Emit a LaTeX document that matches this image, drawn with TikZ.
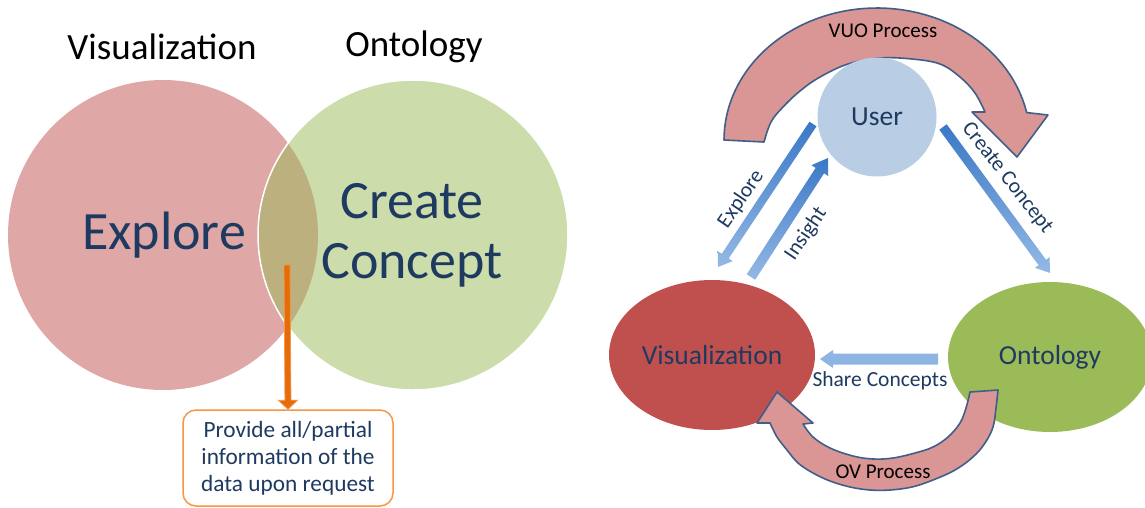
\documentclass[tikz,border=0pt]{standalone}
\usepackage{fontspec}
\setmainfont{Carlito}
\usetikzlibrary{calc,shapes.geometric}
\definecolor{navy}{HTML}{1F3A60}
\definecolor{pinkc}{HTML}{C0504D}
\definecolor{greenc}{HTML}{9BBB59}
\definecolor{userc}{HTML}{B9CDE5}
\definecolor{bandfill}{HTML}{D99694}
\definecolor{bandline}{HTML}{3F5F8A}
\definecolor{blueD}{HTML}{3A78C6}
\definecolor{blueL}{HTML}{95B9E6}
\definecolor{shareblue}{HTML}{8DB4E2}
\definecolor{orangeD}{HTML}{E46C0A}
\definecolor{orangeL}{HTML}{F79646}
\newcommand\blockarrow[6]{%
  \coordinate (hb) at ($(#2)!#5!(#1)$);
  \path[#6] ($(#1)!#3!90:(#2)$) -- ($(hb)!#3!90:(#2)$) -- ($(hb)!#4!90:(#2)$) -- (#2)
    -- ($(hb)!#4!-90:(#2)$) -- ($(hb)!#3!-90:(#2)$) -- ($(#1)!#3!-90:(#2)$) -- cycle;
}
\tikzset{
  title/.style={font=\fontsize{37}{40}\selectfont, text=black},
  big/.style={font=\fontsize{54}{60}\selectfont, text=navy, align=center},
  lbl/.style={font=\fontsize{21.5}{24}\selectfont, text=navy, inner sep=0pt},
  plbl/.style={font=\fontsize{21}{24}\selectfont, text=black, inner sep=0pt},
  nodetxt/.style={font=\fontsize{27.5}{30}\selectfont, text=navy},
  band/.style={fill=bandfill, draw=bandline, line width=1.6pt, line join=round},
  bluearrow/.style={top color=blueD, bottom color=blueL},
}
\begin{document}
\begin{tikzpicture}[x=1pt,y=-1pt]
\useasboundingbox (0,0) rectangle (1145,507);
\fill[white] (0,0) rectangle (1145,507);
% ---------- left part ----------
\node[circle, minimum size=310pt, inner sep=0pt, fill=pinkc, fill opacity=0.5] (vcirc) at (163,235) {};
\node[circle, minimum size=310pt, inner sep=0pt, fill=greenc, fill opacity=0.5, draw=white, draw opacity=1, line width=1.5pt] (ocirc) at (413,235) {};
\node[title] (vtitle) at (162,47) {Visualization};
\node[title] (otitle) at (414,47) {Ontology};
\node[big] (explore) at (164,235) {Explore};
\node[big] (create) at (412,235) {Create\\Concept};
\node[draw=orangeL, line width=1.5pt, rounded corners=13pt, fill=white,
      minimum width=210pt, minimum height=96pt, align=center, text=navy,
      font=\fontsize{23.3}{27}\selectfont] (box) at (288,458)
      {Provide all/partial\\information of the\\data upon request};
\coordinate (ostart) at (287,265);
\blockarrow{ostart}{box.north}{3pt}{9.5pt}{9pt}{fill=orangeD, draw=orangeL, line width=0.8pt}
% ---------- right part ----------
\filldraw[band] plot[domain=0:168, samples=60] ({877+153*cos(180-\x)},{140-132*sin(180-\x)})
  -- (1048,115) -- (1017,157) -- (972,112)
  -- plot[smooth, tension=0.6] coordinates {(985,112) (975,93) (960,77) (940,64) (912,59) (880,58) (848,64) (820,77) (800,91) (783,107) (771,122) (764,142)}
  -- cycle;
\node[plbl] (vuo) at (883,31) {VUO Process};
\node[circle, fill=userc, minimum size=119pt, inner sep=0pt, nodetxt] (user) at (877,117) {User};
\node[ellipse, fill=pinkc, minimum width=206pt, minimum height=150pt, inner sep=0pt, nodetxt] (vis) at (712,355) {Visualization};
\node[ellipse, fill=greenc, minimum width=204pt, minimum height=150pt, inner sep=0pt, nodetxt] (ont) at (1050,357) {Ontology};
\filldraw[band] plot[smooth, tension=0.6] coordinates {(998,390) (996,408) (993,427) (985,443) (973,457) (955,470) (933,480) (912,487) (890,490) (870,490) (850,487) (830,481) (813,473) (798,463) (787,450) (777,437) (770,423)}
  -- (757,423) -- (777,392) -- (813,423)
  -- plot[smooth, tension=0.6] coordinates {(803,424) (813,437) (830,448) (853,456) (873,459) (893,458) (915,453) (933,447) (948,437) (960,423) (966,408) (970,392)}
  -- cycle;
\node[plbl] (ov) at (883,472) {OV Process};
% blue arrows
\coordinate (ex1) at (813,124);
\coordinate (ex2) at (718,267);
\blockarrow{ex1}{ex2}{4.2pt}{9pt}{13pt}{bluearrow}
\coordinate (in1) at (751,277);
\coordinate (in2) at (828,158);
\blockarrow{in1}{in2}{5pt}{10pt}{15pt}{bluearrow}
\coordinate (cc1) at (943,127);
\coordinate (cc2) at (1050,273);
\blockarrow{cc1}{cc2}{4.6pt}{9pt}{13pt}{bluearrow}
\coordinate (sh1) at (938,359);
\coordinate (sh2) at (820,359);
\blockarrow{sh1}{sh2}{5.5pt}{9pt}{13pt}{fill=shareblue}
\node[lbl, rotate=55.7] (explbl) at (741,199) {Explore};
\node[lbl, rotate=56] (inslbl) at (806,234) {Insight};
\node[lbl, rotate=-52] (cclbl) at (1007,178) {Create Concept};
\node[lbl] (shlbl) at (880,381) {Share Concepts};
\end{tikzpicture}
\end{document}
